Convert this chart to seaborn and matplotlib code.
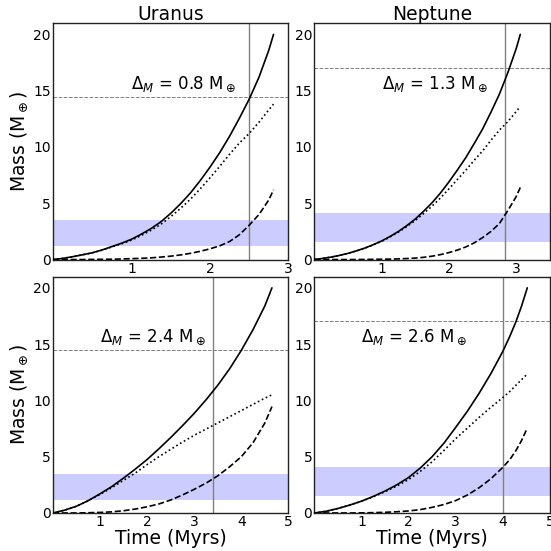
import matplotlib
matplotlib.use("Agg")
import matplotlib.pyplot as plt
import seaborn as sns

# ---------------- data ----------------
titles = ["Uranus", "Neptune"]
ytick_vals = [0, 5, 10, 15, 20]
xticks_top = [1, 2, 3]
xticks_bottom = [1, 2, 3, 4, 5]
xlims = [(0, 3), (0, 3.5), (0, 5), (0, 5)]

# Uranus, top row
t_u1 = [0, 0.125, 0.25, 0.375, 0.5, 0.625, 0.75, 0.875, 1.0, 1.125, 1.25, 1.375,
        1.5, 1.625, 1.75, 1.875, 2.0, 2.125, 2.25, 2.375, 2.5, 2.625, 2.75, 2.81]
total_u1 = [0, 0.1, 0.25, 0.42, 0.6, 0.85, 1.15, 1.45, 1.8, 2.25, 2.75, 3.35,
            4.1, 4.95, 5.9, 7.0, 8.2, 9.5, 10.95, 12.55, 14.25, 16.2, 18.6, 20.0]
core_u1 = [0, 0.1, 0.25, 0.42, 0.59, 0.83, 1.12, 1.4, 1.72, 2.14, 2.6, 3.13,
           3.8, 4.54, 5.35, 6.27, 7.25, 8.28, 9.35, 10.35, 11.2, 12.2, 13.3, 13.8]
env_u1 = [0, 0, 0, 0, 0.01, 0.02, 0.03, 0.05, 0.08, 0.11, 0.15, 0.22,
          0.3, 0.41, 0.55, 0.73, 0.95, 1.22, 1.6, 2.2, 3.05, 4.0, 5.3, 6.2]

# Neptune, top row
t_n1 = [0, 0.125, 0.25, 0.375, 0.5, 0.625, 0.75, 0.875, 1.0, 1.125, 1.25, 1.375, 1.5,
        1.625, 1.75, 1.875, 2.0, 2.125, 2.25, 2.375, 2.5, 2.625, 2.75, 2.875, 3.0, 3.06]
total_n1 = [0, 0.1, 0.22, 0.37, 0.55, 0.77, 1.02, 1.32, 1.65, 2.05, 2.5, 3.02, 3.6,
            4.3, 5.05, 5.92, 6.9, 7.95, 9.05, 10.3, 11.6, 13.1, 14.7, 16.6, 18.75, 20.0]
core_n1 = [0, 0.1, 0.22, 0.37, 0.55, 0.77, 1.01, 1.3, 1.62, 2.01, 2.44, 2.93, 3.47,
           4.1, 4.75, 5.48, 6.28, 7.11, 7.93, 8.82, 9.65, 10.6, 11.5, 12.25, 13.15, 13.6]
env_n1 = [0, 0, 0, 0, 0, 0, 0.01, 0.02, 0.03, 0.04, 0.06, 0.09, 0.13,
          0.2, 0.3, 0.44, 0.62, 0.84, 1.12, 1.48, 1.95, 2.5, 3.2, 4.35, 5.6, 6.4]

# Uranus, bottom row
t_u2 = [0, 0.25, 0.5, 0.75, 1.0, 1.25, 1.5, 1.75, 2.0, 2.25, 2.5, 2.75, 3.0,
        3.25, 3.5, 3.75, 4.0, 4.25, 4.5, 4.65]
total_u2 = [0, 0.25, 0.6, 1.1, 1.7, 2.35, 3.1, 3.9, 4.75, 5.7, 6.7, 7.75, 8.85,
            10.05, 11.35, 12.8, 14.45, 16.3, 18.4, 20.0]
core_u2 = [0, 0.25, 0.6, 1.08, 1.65, 2.25, 2.9, 3.55, 4.3, 5.0, 5.65, 6.3, 6.9,
           7.45, 8.0, 8.55, 9.1, 9.65, 10.2, 10.5]
env_u2 = [0, 0, 0, 0.02, 0.05, 0.1, 0.2, 0.35, 0.55, 0.8, 1.15, 1.6, 2.1,
          2.65, 3.3, 4.1, 5.0, 6.25, 8.0, 9.45]

# Neptune, bottom row
t_n2 = [0, 0.25, 0.5, 0.75, 1.0, 1.25, 1.5, 1.75, 2.0, 2.25, 2.5, 2.75, 3.0,
        3.25, 3.5, 3.75, 4.0, 4.15, 4.28, 4.4, 4.52]
total_n2 = [0, 0.15, 0.4, 0.7, 1.05, 1.47, 1.95, 2.5, 3.15, 4.0, 5.0, 6.2, 7.6,
            9.05, 10.65, 12.4, 14.35, 15.7, 17.0, 18.4, 20.0]
core_n2 = [0, 0.15, 0.4, 0.7, 1.04, 1.44, 1.89, 2.39, 2.97, 3.7, 4.55, 5.55, 6.6,
           7.55, 8.5, 9.4, 10.25, 10.8, 11.35, 11.85, 12.35]
env_n2 = [0, 0, 0, 0, 0.01, 0.03, 0.06, 0.11, 0.18, 0.3, 0.5, 0.75, 1.1,
          1.6, 2.25, 3.05, 4.05, 4.75, 5.55, 6.45, 7.55]

band_low = [1.18, 1.54, 1.18, 1.54]
band_high = [3.54, 4.13, 3.50, 4.12]
mass_now = [14.45, 17.05, 14.45, 17.05]
t_vline = [2.50, 2.84, 3.40, 4.00]
delta_m = ["0.8", "1.3", "2.4", "2.6"]

series = [
    (t_u1, total_u1, core_u1, env_u1),
    (t_n1, total_n1, core_n1, env_n1),
    (t_u2, total_u2, core_u2, env_u2),
    (t_n2, total_n2, core_n2, env_n2),
]

# ---------------- plot ----------------
sns.set_style("white")
plt.rcParams["font.family"] = ["DejaVu Sans"]
plt.rcParams["mathtext.fontset"] = "dejavusans"
plt.rcParams["text.color"] = "black"
plt.rcParams["axes.labelcolor"] = "black"
plt.rcParams["xtick.color"] = "black"
plt.rcParams["ytick.color"] = "black"

fig, axes = plt.subplots(2, 2, figsize=(5.51, 5.51), dpi=100)
fig.subplots_adjust(left=0.096, right=0.998, top=0.958, bottom=0.069,
                    wspace=0.11, hspace=0.072)

for i, ax in enumerate(axes.flat):
    t, tot, core, env = series[i]
    ax.axhspan(band_low[i], band_high[i], color="blue", alpha=0.2, lw=0, zorder=1)
    ax.axhline(mass_now[i], color="gray", ls="--", lw=0.7, zorder=2)
    ax.axvline(t_vline[i], color="gray", lw=1.0, zorder=2)
    sns.lineplot(x=t, y=tot, ax=ax, color="black", lw=1.2, sort=False, zorder=3)
    sns.lineplot(x=t, y=core, ax=ax, color="black", lw=1.2, ls=":", sort=False, zorder=3)
    sns.lineplot(x=t, y=env, ax=ax, color="black", lw=1.2, ls="--", sort=False, zorder=3)
    ax.text(1.0, 15.6, r"$\Delta_M$ = " + delta_m[i] + r" M$_\oplus$",
            fontsize=12, ha="left", va="center", color="black")
    ax.set_xlim(*xlims[i])
    ax.set_ylim(0, 21)
    ax.set_yticks(ytick_vals)
    ax.set_xticks(xticks_top if i < 2 else xticks_bottom)
    ax.tick_params(length=0, pad=1.5, labelsize=10, colors="black")
    for sp in ax.spines.values():
        sp.set_color("#222222")
        sp.set_linewidth(1.0)
    ax.set_xlabel("")
    ax.set_ylabel("")
    if i < 2:
        ax.set_title(titles[i], fontsize=13.5, pad=2, color="black")
    else:
        ax.set_xlabel("Time (Myrs)", fontsize=13.5, labelpad=0)
    if i % 2 == 0:
        ax.set_ylabel(r"Mass (M$_\oplus$)", fontsize=13.5, labelpad=2)

fig.savefig("out.png", dpi=100)
